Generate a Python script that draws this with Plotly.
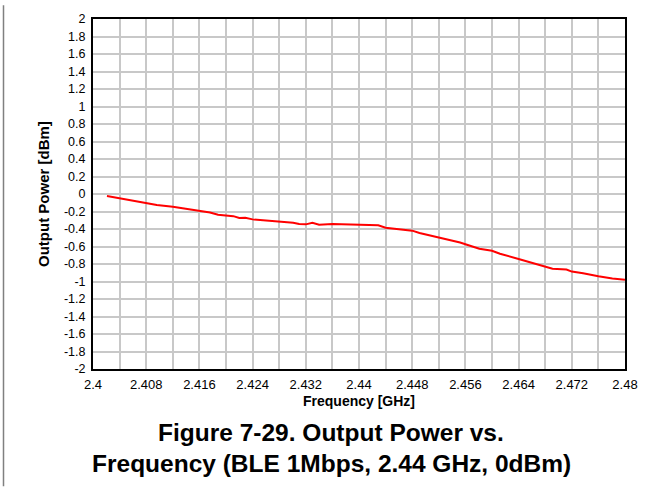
import plotly.graph_objects as go

freq_ghz = [2.4021, 2.404, 2.4061, 2.408, 2.4096, 2.412, 2.4141, 2.416, 2.4176, 2.4188,
            2.42, 2.4211, 2.422, 2.4229, 2.424, 2.4266, 2.428, 2.4301, 2.431, 2.432,
            2.433, 2.434, 2.436, 2.438, 2.44, 2.4419, 2.4429, 2.444, 2.4461, 2.448,
            2.4491, 2.452, 2.4539, 2.4552, 2.456, 2.4581, 2.46, 2.4612, 2.464, 2.4656,
            2.468, 2.4691, 2.4712, 2.472, 2.4737, 2.475, 2.476, 2.4781, 2.48]
power_dbm = [-0.023, -0.049, -0.075, -0.106, -0.125, -0.147, -0.174, -0.192, -0.211, -0.238,
             -0.242, -0.253, -0.275, -0.272, -0.29, -0.306, -0.317, -0.328, -0.343, -0.347,
             -0.328, -0.351, -0.343, -0.347, -0.355, -0.362, -0.358, -0.385, -0.404, -0.419,
             -0.445, -0.494, -0.525, -0.555, -0.574, -0.626, -0.649, -0.683, -0.743, -0.777,
             -0.826, -0.853, -0.864, -0.887, -0.906, -0.921, -0.94, -0.966, -0.981]

x_tick_vals = [2.4, 2.408, 2.416, 2.424, 2.432, 2.44, 2.448, 2.456, 2.464, 2.472, 2.48]
x_tick_text = ["2.4", "2.408", "2.416", "2.424", "2.432", "2.44", "2.448", "2.456", "2.464", "2.472", "2.48"]
y_tick_vals = [2, 1.8, 1.6, 1.4, 1.2, 1, 0.8, 0.6, 0.4, 0.2, 0, -0.2, -0.4, -0.6, -0.8, -1, -1.2, -1.4, -1.6, -1.8, -2]
y_tick_text = ["2", "1.8", "1.6", "1.4", "1.2", "1", "0.8", "0.6", "0.4", "0.2", "0", "-0.2", "-0.4", "-0.6",
               "-0.8", "-1", "-1.2", "-1.4", "-1.6", "-1.8", "-2"]

x_title = "Frequency [GHz]"
y_title = "Output Power [dBm]"
caption_1 = "Figure 7-29. Output Power vs."
caption_2 = "Frequency (BLE 1Mbps, 2.44 GHz, 0dBm)"

FONT = "Liberation Sans, Arial, sans-serif"
GRID = "#c8c8c8"

fig = go.Figure()
fig.add_trace(go.Scatter(x=freq_ghz, y=power_dbm, mode="lines",
                         line=dict(color="#ff0000", width=2), showlegend=False))

W, H = 662, 488
ml, mr, mt, mb = 93, 37, 14, 119
pw, ph = W - ml - mr, H - mt - mb

fig.update_layout(
    width=W, height=H,
    margin=dict(l=ml, r=mr, t=mt, b=mb, pad=0),
    paper_bgcolor="white", plot_bgcolor="white",
    font=dict(family=FONT, color="black"),
    xaxis=dict(range=[2.4, 2.48], tickvals=x_tick_vals, ticktext=x_tick_text,
               showgrid=True, gridcolor=GRID, gridwidth=1.5,
               minor=dict(dtick=0.004, tick0=2.4, showgrid=True, gridcolor=GRID, gridwidth=1.5),
               zeroline=False, showline=True, linecolor="black", linewidth=2, mirror=True,
               ticks="", ticklabelstandoff=2, tickfont=dict(size=13, family=FONT)),
    yaxis=dict(range=[-2, 2], tickvals=y_tick_vals, ticktext=y_tick_text,
               showgrid=True, gridcolor=GRID, gridwidth=1.5,
               zeroline=False, showline=True, linecolor="black", linewidth=2, mirror=True,
               ticks="", ticklabelstandoff=3, tickfont=dict(size=12.5, family=FONT)),
)

def py_to_paper(py):
    return (H - mb - py) / ph

def px_to_paper(px):
    return (px - ml) / pw

fig.add_annotation(text="<b>%s</b>" % x_title, xref="paper", yref="paper",
                   x=0.5, y=py_to_paper(401), xanchor="center", yanchor="middle",
                   showarrow=False, font=dict(size=14, family=FONT))
fig.add_annotation(text="<b>%s</b>" % y_title, xref="paper", yref="paper",
                   x=px_to_paper(43), y=0.5, xanchor="center", yanchor="middle", textangle=-90,
                   showarrow=False, font=dict(size=15, family=FONT))
fig.add_annotation(text="<b>%s</b>" % caption_1, xref="paper", yref="paper",
                   x=px_to_paper(W / 2), y=py_to_paper(433), xanchor="center", yanchor="middle",
                   showarrow=False, font=dict(size=24.5, family=FONT))
fig.add_annotation(text="<b>%s</b>" % caption_2, xref="paper", yref="paper",
                   x=px_to_paper(W / 2), y=py_to_paper(465), xanchor="center", yanchor="middle",
                   showarrow=False, font=dict(size=24.5, family=FONT))

fig.add_shape(type="line", xref="paper", yref="paper",
              x0=px_to_paper(3.5), x1=px_to_paper(3.5), y0=py_to_paper(0), y1=py_to_paper(H),
              line=dict(color="#808080", width=1.5))

fig.write_html("out.html", config={"displayModeBar": False},
               post_script="document.body.style.margin='0';")
